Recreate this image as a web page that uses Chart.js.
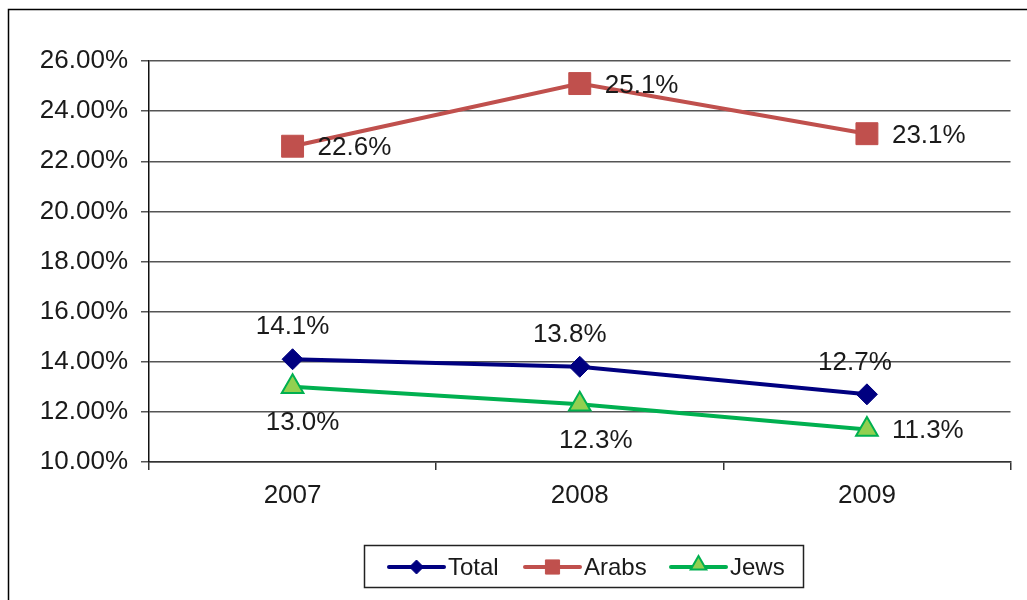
<!DOCTYPE html>
<html>
<head>
<meta charset="utf-8">
<script src="https://cdn.jsdelivr.net/npm/chart.js@4"></script>
<style>
  html, body { margin: 0; padding: 0; background: #fff; }
  #wrap { position: relative; width: 1027px; height: 600px; }
</style>
</head>
<body>
<div id="wrap"><canvas id="c" width="1027" height="600"></canvas></div>
<script>
const years = ['2007', '2008', '2009'];
const totalRates = [14.1, 13.8, 12.7];
const arabRates = [22.6, 25.1, 23.1];
const jewRates = [13.0, 12.3, 11.3];
const yTicks = [10, 12, 14, 16, 18, 20, 22, 24, 26];

const FONT = '"Liberation Sans", Arial, Helvetica, sans-serif';
const TEXT = '#1a1a1a';

// value labels next to each marker
const valueLabels = {
  id: 'valueLabels',
  afterDatasetsDraw(chart, args, opts) {
    const ctx = chart.ctx;
    ctx.save();
    ctx.font = '26px ' + FONT;
    ctx.fillStyle = TEXT;
    chart.data.datasets.forEach((ds, di) => {
      const meta = chart.getDatasetMeta(di);
      const place = opts.placement[di];
      meta.data.forEach((pt, i) => {
        const p = place[i];
        const txt = ds.data[i].toFixed(1) + '%';
        ctx.textBaseline = 'middle';
        if (p.pos === 'right') {
          ctx.textAlign = 'left';
          ctx.fillText(txt, pt.x + 25, pt.y + (p.dy || 0));
        } else if (p.pos === 'above') {
          ctx.textAlign = 'center';
          ctx.fillText(txt, pt.x + (p.dx || 0), pt.y - 32);
        } else {
          ctx.textAlign = 'center';
          ctx.fillText(txt, pt.x + (p.dx || 0), pt.y + 36);
        }
      });
    });
    ctx.restore();
  }
};

// outer frame and boxed legend
const frameAndLegend = {
  id: 'frameAndLegend',
  beforeDraw(chart) {
    const ctx = chart.ctx;
    ctx.save();
    ctx.fillStyle = '#fff';
    ctx.fillRect(0, 0, chart.width, chart.height);
    ctx.strokeStyle = '#000';
    ctx.lineWidth = 1.5;
    ctx.strokeRect(8.5, 9.5, 1200, 800);
    ctx.restore();
  },
  afterDraw(chart) {
    const ctx = chart.ctx;
    ctx.save();
    ctx.strokeStyle = '#222';
    ctx.lineWidth = 1.5;
    ctx.strokeRect(364.5, 545.5, 439, 42);
    const y = 567;
    const items = [
      { x: 389, ds: 0, r: 7 },
      { x: 525, ds: 1, r: 10 },
      { x: 671, ds: 2, r: 9 }
    ];
    ctx.font = '24px ' + FONT;
    ctx.textBaseline = 'middle';
    ctx.textAlign = 'left';
    items.forEach(it => {
      const ds = chart.data.datasets[it.ds];
      ctx.strokeStyle = ds.borderColor;
      ctx.lineWidth = 4;
      ctx.lineCap = 'round';
      ctx.beginPath();
      ctx.moveTo(it.x, y);
      ctx.lineTo(it.x + 55, y);
      ctx.stroke();
      ctx.lineCap = 'butt';
      ctx.fillStyle = ds.pointBackgroundColor;
      ctx.strokeStyle = ds.pointBorderColor;
      ctx.lineWidth = ds.pointBorderWidth;
      Chart.helpers.drawPoint(ctx, {
        pointStyle: ds.pointStyle, rotation: 0, radius: it.r, borderWidth: ds.pointBorderWidth
      }, it.x + 27.5, y - (it.ds === 2 ? 2 : 0));
      ctx.fillStyle = TEXT;
      ctx.fillText(ds.label, it.x + 59, y + 1);
    });
    ctx.restore();
  }
};

new Chart(document.getElementById('c'), {
  type: 'line',
  data: {
    labels: years,
    datasets: [
      {
        label: 'Total', data: totalRates,
        borderColor: '#000080', borderWidth: 4,
        pointStyle: 'rectRot', pointRadius: 10.5,
        pointBackgroundColor: '#000080', pointBorderColor: '#000080', pointBorderWidth: 1
      },
      {
        label: 'Arabs', data: arabRates,
        borderColor: '#C0504D', borderWidth: 4,
        pointStyle: 'rect', pointRadius: 15.5,
        pointBackgroundColor: '#C0504D', pointBorderColor: '#C0504D', pointBorderWidth: 1
      },
      {
        label: 'Jews', data: jewRates,
        borderColor: '#00B050', borderWidth: 4,
        pointStyle: 'triangle', pointRadius: 12.5,
        pointBackgroundColor: '#92D050', pointBorderColor: '#00B050', pointBorderWidth: 2
      }
    ]
  },
  options: {
    responsive: false,
    animation: false,
    layout: { padding: { top: 61, right: 16, left: 0, bottom: 0 } },
    plugins: {
      legend: { display: false },
      tooltip: { enabled: false },
      valueLabels: {
        placement: [
          [{ pos: 'above', dx: 0 }, { pos: 'above', dx: -10 }, { pos: 'above', dx: -12 }],
          [{ pos: 'right', dy: 2 }, { pos: 'right', dy: 2 }, { pos: 'right', dy: 2 }],
          [{ pos: 'below', dx: 10 }, { pos: 'below', dx: 16 }, { pos: 'right', dy: 1 }]
        ]
      }
    },
    scales: {
      x: {
        offset: true,
        grid: { offset: true, drawOnChartArea: false, drawTicks: true, tickLength: 8, color: '#333', lineWidth: 1.5 },
        border: { display: true, color: '#333', width: 1.5 },
        ticks: { font: { family: FONT, size: 26 }, color: TEXT, padding: 10 },
        afterFit(s) { s.height = 138; }
      },
      y: {
        min: 10, max: 26,
        afterBuildTicks(s) { s.ticks = yTicks.map(v => ({ value: v })); },
        grid: { color: '#555', lineWidth: 1.5, tickLength: 8 },
        border: { display: true, color: '#111', width: 1.5 },
        ticks: {
          font: { family: FONT, size: 26 }, color: TEXT, padding: 13,
          callback: v => Number(v).toFixed(2) + '%'
        },
        afterFit(s) { s.width = 149; }
      }
    }
  },
  plugins: [frameAndLegend, valueLabels]
});
</script>
</body>
</html>
